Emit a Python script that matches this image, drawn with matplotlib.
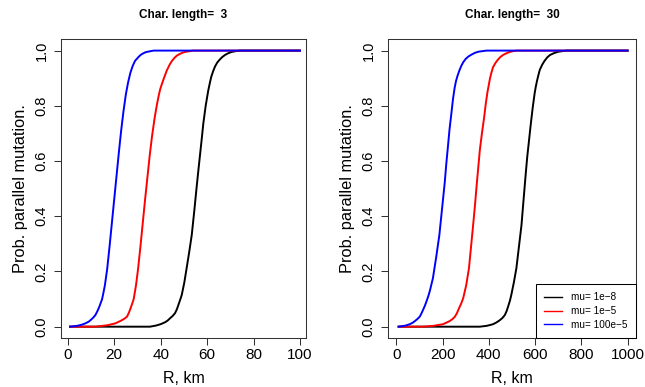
import matplotlib
matplotlib.use("Agg")
import matplotlib.pyplot as plt

plt.rcParams['font.family'] = ['Liberation Sans', 'DejaVu Sans']

# values, left panel (char. length 3)
black_x_3 = [1, 35.4, 38, 40, 41.9, 43, 44, 45.2, 46.2, 47, 47.7, 48.4, 49.1, 50.2, 51.2, 52.3, 53.4, 54.5, 55.5,
             56.3, 57, 57.7, 58.4, 59.4, 60.5, 61.2, 61.8, 62.6, 63.4, 64.4, 65.5, 66.6, 67.7, 69, 70.5, 72.3,
             74.2, 100]
black_y_3 = [0, 0, 0.004, 0.009, 0.016, 0.022, 0.03, 0.039, 0.049, 0.063, 0.08, 0.097, 0.115, 0.16, 0.212, 0.27,
             0.332, 0.42, 0.505, 0.57, 0.625, 0.68, 0.737, 0.80, 0.855, 0.883, 0.905, 0.925, 0.942, 0.957, 0.968,
             0.977, 0.984, 0.99, 0.995, 0.998, 1, 1]
red_x_3 = [1, 11.9, 17, 20.5, 23, 24.4, 25.5, 26.3, 27, 27.7, 28.4, 29.4, 30.3, 31.3, 32.3, 33.3, 34.3, 35.3,
           36.3, 37.4, 38.1, 38.6, 39.2, 39.8, 40.5, 41.2, 42.6, 44, 45, 46, 47, 48.3, 49.6, 51, 52.5, 54, 100]
red_y_3 = [0, 0, 0.005, 0.012, 0.022, 0.029, 0.036, 0.05, 0.065, 0.082, 0.10, 0.15, 0.21, 0.29, 0.375, 0.46, 0.54,
           0.62, 0.69, 0.755, 0.79, 0.813, 0.838, 0.86, 0.878, 0.895, 0.927, 0.951, 0.964, 0.974, 0.982, 0.988,
           0.993, 0.996, 0.998, 1, 1]
blue_x_3 = [1, 4, 6, 7.6, 9, 10, 11, 11.9, 12.7, 13.5, 14.2, 14.8, 15.4, 16, 17, 18, 19, 20, 21, 22, 23, 24, 25,
            25.5, 26, 26.5, 27, 27.5, 28, 29, 30.6, 31.5, 32.5, 33.5, 34.5, 35.7, 37, 100]
blue_y_3 = [0, 0.003, 0.007, 0.012, 0.018, 0.025, 0.033, 0.042, 0.055, 0.07, 0.086, 0.10, 0.124, 0.15, 0.21, 0.29,
            0.375, 0.46, 0.545, 0.63, 0.71, 0.78, 0.84, 0.863, 0.885, 0.903, 0.92, 0.933, 0.945, 0.963, 0.978,
            0.985, 0.99, 0.994, 0.996, 0.998, 1, 1]

# right panel (char. length 30)
black_x_30 = [10, 361, 390, 405, 418, 432, 445, 458, 469, 477, 484, 491, 497, 508, 519, 530, 541, 548, 555, 560,
              566, 573, 580, 589, 598, 603, 608, 614, 620, 630, 640, 652, 664, 682, 700, 718, 736, 1000]
black_y_30 = [0, 0, 0.003, 0.006, 0.009, 0.015, 0.022, 0.031, 0.042, 0.057, 0.075, 0.094, 0.115, 0.16, 0.212, 0.29,
              0.368, 0.44, 0.51, 0.56, 0.616, 0.67, 0.725, 0.79, 0.846, 0.87, 0.89, 0.911, 0.93, 0.948, 0.962,
              0.975, 0.984, 0.991, 0.996, 0.998, 1, 1]
red_x_30 = [10, 115, 160, 202, 230, 242, 253, 262, 270, 280, 289, 302, 314, 323, 332, 340, 347, 354, 361, 370,
            380, 387, 394, 400, 405, 411, 418, 429, 440, 450, 461, 475, 490, 505, 519, 1000]
red_y_30 = [0, 0, 0.003, 0.009, 0.02, 0.027, 0.036, 0.049, 0.065, 0.083, 0.103, 0.15, 0.212, 0.29, 0.368, 0.44,
            0.51, 0.575, 0.64, 0.7, 0.761, 0.81, 0.85, 0.877, 0.9, 0.92, 0.94, 0.956, 0.968, 0.977, 0.984, 0.99,
            0.995, 0.998, 1, 1]
blue_x_30 = [10, 40, 58, 70, 80, 90, 101, 108, 115, 123, 130, 138, 145, 158, 172, 186, 198, 209, 216, 223, 230,
             238, 245, 252, 258, 265, 273, 281, 290, 300, 312, 324, 340, 355, 372, 390, 1000]
blue_y_30 = [0, 0.004, 0.009, 0.014, 0.02, 0.027, 0.036, 0.047, 0.06, 0.075, 0.091, 0.11, 0.13, 0.175, 0.25, 0.332,
             0.43, 0.52, 0.59, 0.652, 0.715, 0.773, 0.825, 0.865, 0.89, 0.91, 0.929, 0.945, 0.959, 0.97, 0.979,
             0.985, 0.992, 0.996, 0.998, 1, 1]

legend_labels = ["mu= 1e\u22128", "mu= 1e\u22125", "mu= 100e\u22125"]
titles = ["Char. length=  3", "Char. length=  30"]


def setup_axes(ax, title, xlim, xticks):
    ax.set_xlim(xlim)
    ax.set_ylim(-0.041, 1.042)
    ax.set_xticks(xticks)
    ax.set_xticklabels([str(t) for t in xticks], fontsize=11)
    ax.set_yticks([0, 0.2, 0.4, 0.6, 0.8, 1.0])
    ax.set_yticklabels(["0.0", "0.2", "0.4", "0.6", "0.8", "1.0"], rotation=90, va="center", fontsize=10.5)
    ax.tick_params(direction="out", length=5, width=0.75, color="#333333")
    ax.tick_params(axis="x", pad=2.5)
    ax.tick_params(axis="y", pad=4)
    for s in ax.spines.values():
        s.set_linewidth(0.75)
        s.set_color("#333333")
    ax.set_title(title, fontsize=8.5, fontweight="bold", pad=15)
    ax.set_xlabel("R, km", fontsize=11.5, labelpad=6.5)
    ax.set_ylabel("Prob. parallel mutation.", fontsize=11.8, labelpad=5)


def main():
    fig = plt.figure(figsize=(6.45, 3.87), dpi=100)
    ax1 = fig.add_axes([61 / 645, 1 - 338 / 387, 245 / 645, 299 / 387])
    ax2 = fig.add_axes([388 / 645, 1 - 338 / 387, 248 / 645, 299 / 387])

    ax1.plot(black_x_3, black_y_3, color="black", lw=1.4)
    ax1.plot(red_x_3, red_y_3, color="red", lw=1.4)
    ax1.plot(blue_x_3, blue_y_3, color="blue", lw=1.4)
    setup_axes(ax1, titles[0], (-2.9, 102.6), [0, 20, 40, 60, 80, 100])

    ax2.plot(black_x_30, black_y_30, color="black", lw=1.4)
    ax2.plot(red_x_30, red_y_30, color="red", lw=1.4)
    ax2.plot(blue_x_30, blue_y_30, color="blue", lw=1.4)
    setup_axes(ax2, titles[1], (-36, 1036), [0, 200, 400, 600, 800, 1000])

    handles = [plt.Line2D([], [], color=c, lw=1) for c in ["black", "red", "blue"]]
    leg = ax2.legend(handles, legend_labels, loc="lower right", borderaxespad=0, fontsize=7.2,
                     fancybox=False, framealpha=1, edgecolor="black", handlelength=1.8,
                     handletextpad=0.9, borderpad=0.85, labelspacing=0.35)
    leg.get_frame().set_linewidth(0.75)

    fig.savefig("out.png", dpi=100)


if __name__ == "__main__":
    main()
